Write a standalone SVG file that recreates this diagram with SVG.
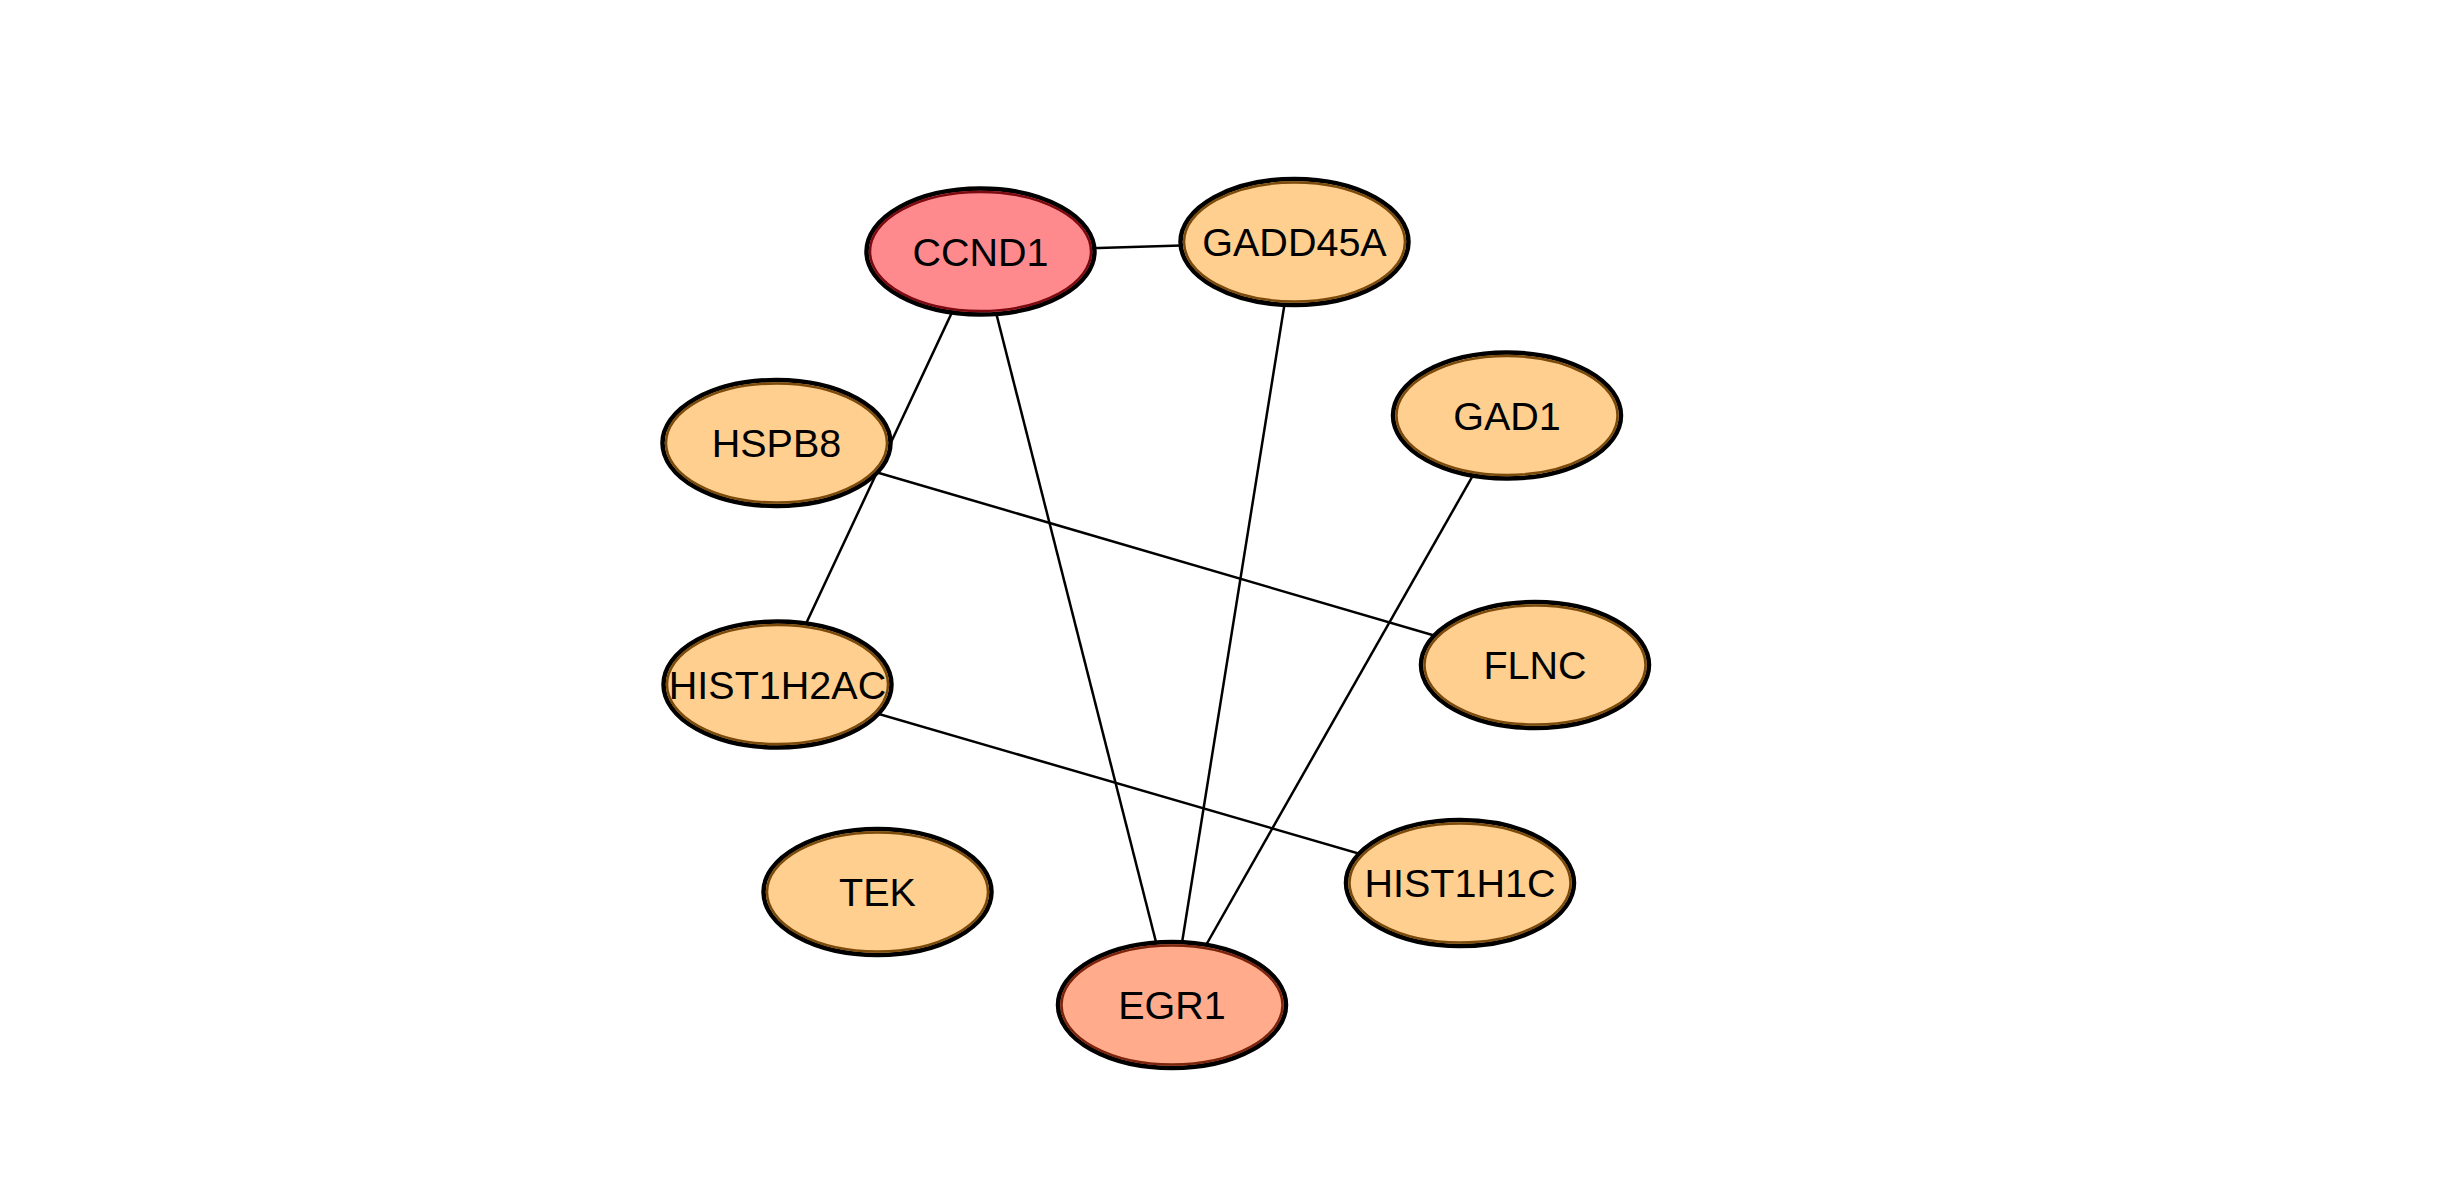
<svg xmlns="http://www.w3.org/2000/svg" width="2438" height="1204" viewBox="0 0 2438 1204">
<style>
.bg{fill:#ffffff}
.edge{stroke:#000000;stroke-width:2.5;fill:none}
.outer{stroke:#000000;stroke-width:4.5}
.inner{fill:none;stroke-width:2.5}
.orange .outer{fill:#FFCF8F}
.orange .inner{stroke:#7A4A0C}
.red .outer{fill:#FF8A8E}
.red .inner{stroke:#7A0A10}
.salmon .outer{fill:#FFAB8C}
.salmon .inner{stroke:#7A240C}
.lbl{font-family:"Liberation Sans",Arial,sans-serif;font-size:39.5px;fill:#000000;text-anchor:middle}
</style>
<rect class="bg" x="0" y="0" width="2438" height="1204"/>
<g id="edges">
<line class="edge" x1="980.5" y1="251.5" x2="1294.5" y2="242"/>
<line class="edge" x1="980.5" y1="251.5" x2="777.5" y2="684.5"/>
<line class="edge" x1="980.5" y1="251.5" x2="1172" y2="1005"/>
<line class="edge" x1="1294.5" y1="242" x2="1172" y2="1005"/>
<line class="edge" x1="1507" y1="415.5" x2="1172" y2="1005"/>
<line class="edge" x1="776.5" y1="443" x2="1535" y2="665"/>
<line class="edge" x1="777.5" y1="684.5" x2="1460" y2="883"/>
</g>
<g id="node-CCND1" class="red">
<ellipse class="outer" cx="980.5" cy="251.5" rx="114" ry="63"/>
<ellipse class="inner" cx="980.5" cy="251.5" rx="110.5" ry="59.5"/>
<text class="lbl" x="980.5" y="265.5">CCND1</text>
</g>
<g id="node-GADD45A" class="orange">
<ellipse class="outer" cx="1294.5" cy="242" rx="114" ry="63"/>
<ellipse class="inner" cx="1294.5" cy="242" rx="110.5" ry="59.5"/>
<text class="lbl" x="1294.5" y="256">GADD45A</text>
</g>
<g id="node-GAD1" class="orange">
<ellipse class="outer" cx="1507" cy="415.5" rx="114" ry="63"/>
<ellipse class="inner" cx="1507" cy="415.5" rx="110.5" ry="59.5"/>
<text class="lbl" x="1507" y="429.5">GAD1</text>
</g>
<g id="node-HSPB8" class="orange">
<ellipse class="outer" cx="776.5" cy="443" rx="114" ry="63"/>
<ellipse class="inner" cx="776.5" cy="443" rx="110.5" ry="59.5"/>
<text class="lbl" x="776.5" y="457">HSPB8</text>
</g>
<g id="node-FLNC" class="orange">
<ellipse class="outer" cx="1535" cy="665" rx="114" ry="63"/>
<ellipse class="inner" cx="1535" cy="665" rx="110.5" ry="59.5"/>
<text class="lbl" x="1535" y="679">FLNC</text>
</g>
<g id="node-HIST1H2AC" class="orange">
<ellipse class="outer" cx="777.5" cy="684.5" rx="114" ry="63"/>
<ellipse class="inner" cx="777.5" cy="684.5" rx="110.5" ry="59.5"/>
<text class="lbl" x="777.5" y="698.5">HIST1H2AC</text>
</g>
<g id="node-HIST1H1C" class="orange">
<ellipse class="outer" cx="1460" cy="883" rx="114" ry="63"/>
<ellipse class="inner" cx="1460" cy="883" rx="110.5" ry="59.5"/>
<text class="lbl" x="1460" y="897">HIST1H1C</text>
</g>
<g id="node-TEK" class="orange">
<ellipse class="outer" cx="877.5" cy="892" rx="114" ry="63"/>
<ellipse class="inner" cx="877.5" cy="892" rx="110.5" ry="59.5"/>
<text class="lbl" x="877.5" y="906">TEK</text>
</g>
<g id="node-EGR1" class="salmon">
<ellipse class="outer" cx="1172" cy="1005" rx="114" ry="63"/>
<ellipse class="inner" cx="1172" cy="1005" rx="110.5" ry="59.5"/>
<text class="lbl" x="1172" y="1019">EGR1</text>
</g>
</svg>
